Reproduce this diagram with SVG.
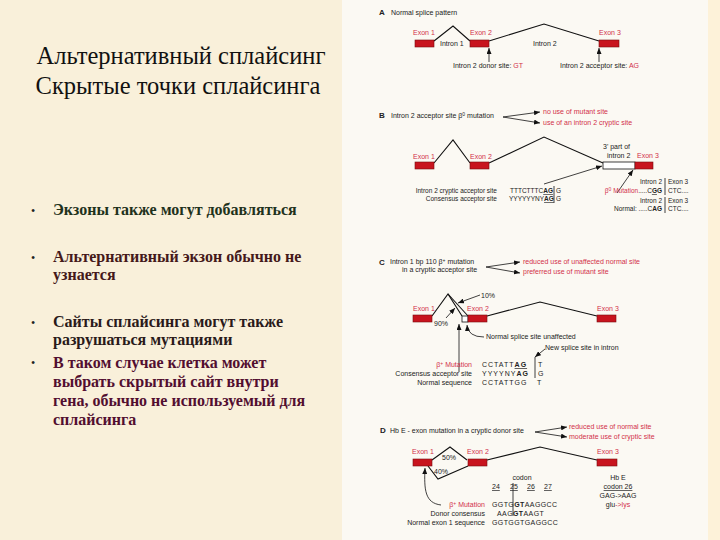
<svg xmlns="http://www.w3.org/2000/svg" width="720" height="540" viewBox="0 0 720 540">
<defs>
<marker id="ah" markerUnits="userSpaceOnUse" markerWidth="6" markerHeight="5" refX="6" refY="2.5" orient="auto"><path d="M0,0 L6,2.5 L0,5 z" fill="#111"/></marker>
<style>
.bg{fill:#f9f0da}
.title{font-family:"Liberation Serif",serif;font-size:24.5px;fill:#111}
.bul{font-family:"Liberation Serif",serif;font-size:16px;font-weight:bold}
.dot{font-family:"Liberation Serif",serif;font-size:12px;fill:#222}
.t{font-family:"Liberation Sans",Arial,sans-serif;font-size:7px;fill:#222}
.s{font-family:"Liberation Sans",Arial,sans-serif;font-size:6.5px;fill:#222}
.r{fill:#d2304a}
.lbl{font-family:"Liberation Sans",Arial,sans-serif;font-size:7px;fill:#d2304a}
.hd{font-family:"Liberation Sans",Arial,sans-serif;font-size:8px;font-weight:bold;fill:#222}
.ex{fill:#c8141e;stroke:#7a0a10;stroke-width:0.6}
.open{fill:#fff;stroke:#111;stroke-width:0.8}
.ln{fill:none;stroke:#111;stroke-width:1.1}
.ar{fill:none;stroke:#111;stroke-width:0.8;marker-end:url(#ah)}
.bar{stroke:#111;stroke-width:0.8}
.b{font-weight:bold}
.u{text-decoration:underline}
.e{text-anchor:end}
.m{text-anchor:middle}
</style>
</defs>
<rect class="bg" x="0" y="0" width="720" height="540"/>
<rect x="342" y="0" width="366" height="540" fill="#fbf9f3"/>
<rect x="708" y="0" width="12" height="540" fill="#fdf2d9"/>

<g id="title">
<text class="title m" x="181" y="64">Альтернативный сплайсинг</text>
<text class="title m" x="178" y="94">Скрытые точки сплайсинга</text>
</g>

<g id="bullets">
<text class="dot" x="31" y="215">•</text>
<text class="bul" x="53" y="215" fill="#1f321c">Экзоны также могут добавляться</text>
<text class="dot" x="31" y="262">•</text>
<text class="bul" x="53" y="262" fill="#45191a">Альтернативный экзон обычно не</text>
<text class="bul" x="53" y="280" fill="#45191a">узнается</text>
<text class="dot" x="31" y="327">•</text>
<text class="bul" x="53" y="327" fill="#2a1a1a">Сайты сплайсинга могут также</text>
<text class="bul" x="53" y="345" fill="#2a1a1a">разрушаться мутациями</text>
<text class="dot" x="31" y="367">•</text>
<text class="bul" x="53" y="368" fill="#520e30">В таком случае клетка может</text>
<text class="bul" x="53" y="387" fill="#520e30">выбрать скрытый сайт внутри</text>
<text class="bul" x="53" y="406" fill="#520e30">гена, обычно не используемый для</text>
<text class="bul" x="53" y="425" fill="#520e30">сплайсинга</text>
</g>

<g id="connectors">
<!-- A -->
<polyline class="ln" points="434,41 453,26 470,41"/>
<polyline class="ln" points="489,41 544,24 599,41"/>
<line class="ar" x1="489" y1="62" x2="489" y2="48"/>
<line class="ar" x1="599" y1="62" x2="599" y2="48"/>
<!-- B -->
<line class="ar" x1="503" y1="117" x2="540" y2="112"/>
<line class="ar" x1="503" y1="117" x2="540" y2="123"/>
<polyline class="ln" points="434,163 453,140 470,163"/>
<polyline class="ln" points="489,163 544,137 603,163"/>
<line class="ar" x1="544" y1="184" x2="602" y2="166"/>
<line class="ar" x1="617" y1="193" x2="633" y2="170"/>
<line class="bar" x1="554" y1="186" x2="554" y2="203"/>
<line class="bar" x1="665" y1="178" x2="665" y2="195"/>
<line class="bar" x1="665" y1="197" x2="665" y2="213"/>
<!-- C -->
<line class="ar" x1="486" y1="267" x2="520" y2="262"/>
<line class="ar" x1="486" y1="267" x2="520" y2="273"/>
<polyline class="ln" points="432,316 448,294 462,316"/>
<line class="ln" x1="448" y1="294" x2="468" y2="316"/>
<polyline class="ln" points="487,316 540,302 597,316"/>
<line class="ar" x1="480" y1="295" x2="458" y2="303"/>
<line class="ar" x1="446" y1="318" x2="455" y2="308"/>
<line class="ar" x1="459" y1="372" x2="459" y2="324"/>
<path class="ar" d="M484,337 Q468,337 467,325"/>
<line class="ar" x1="545" y1="349" x2="535" y2="357"/>
<line class="bar" x1="535" y1="357" x2="535" y2="378"/>
<!-- D -->
<line class="ar" x1="535" y1="432" x2="567" y2="427"/>
<line class="ar" x1="535" y1="432" x2="567" y2="437"/>
<polyline class="ln" points="432,460 450,447 467,460"/>
<polyline class="ln" points="428,466 438,479 468,466"/>
<polyline class="ln" points="487,460 540,447 597,460"/>
<path class="ar" d="M441,505 C425,503 424,490 425,468"/>
<line class="bar" x1="513" y1="483" x2="513" y2="516"/>
</g>

<g id="panelA">
<text class="hd" x="379" y="15">A</text>
<text class="t" x="391" y="15">Normal splice pattern</text>
<g id="A-exon1"><text class="lbl" x="413" y="35">Exon 1</text><rect class="ex" x="415" y="40" width="19" height="7"/></g>
<g id="A-exon2"><text class="lbl" x="470" y="35">Exon 2</text><rect class="ex" x="470" y="40" width="19" height="7"/></g>
<g id="A-exon3"><text class="lbl" x="599" y="35">Exon 3</text><rect class="ex" x="599" y="40" width="20" height="7"/></g>
<text class="t" x="440" y="46">Intron 1</text>
<text class="t" x="533" y="46">Intron 2</text>
<text class="t" x="453" y="68">Intron 2 donor site: <tspan class="r">GT</tspan></text>
<text class="t" x="560" y="68">Intron 2 acceptor site: <tspan class="r">AG</tspan></text>
</g>

<g id="panelB">
<text class="hd" x="379" y="118">B</text>
<text class="t" x="391" y="118">Intron 2 acceptor site β<tspan font-size="5" dy="-2.5">0</tspan><tspan dy="2.5"> mutation</tspan></text>
<text class="lbl" x="543" y="114">no use of mutant site</text>
<text class="lbl" x="543" y="125">use of an intron 2 cryptic site</text>
<g id="B-exon1"><text class="lbl" x="413" y="159">Exon 1</text><rect class="ex" x="415" y="162" width="19" height="7"/></g>
<g id="B-exon2"><text class="lbl" x="470" y="159">Exon 2</text><rect class="ex" x="470" y="162" width="19" height="7"/></g>
<g id="B-intron2part"><text class="t" x="603" y="149">3' part of</text><text class="t" x="607" y="158">intron 2</text><rect class="open" x="603" y="162" width="32" height="7"/></g>
<g id="B-exon3"><text class="lbl" x="637" y="158">Exon 3</text><rect class="ex" x="635" y="162" width="18" height="7"/></g>
<text class="s e" x="497" y="193">Intron 2 cryptic acceptor site</text>
<text class="s e" x="497" y="201">Consensus acceptor site</text>
<text class="s" x="510" y="193">TTTCTTTC<tspan class="b u">AG</tspan></text>
<text class="s" x="556" y="193">G</text>
<text class="s" x="509" y="201">YYYYYYNY<tspan class="b u">AG</tspan></text>
<text class="s" x="556" y="201">G</text>
<text class="s e" x="662" y="184">Intron 2</text><text class="s" x="668" y="184">Exon 3</text>
<text class="s e" x="662" y="193"><tspan class="r">β<tspan font-size="5" dy="-2.5">0</tspan><tspan dy="2.5"> Mutation</tspan></tspan>.....C<tspan class="b u">G</tspan><tspan class="b">G</tspan></text>
<text class="s" x="668" y="193">CTC....</text>
<text class="s e" x="662" y="203">Intron 2</text><text class="s" x="668" y="203">Exon 3</text>
<text class="s e" x="662" y="211">Normal: .....C<tspan class="b">AG</tspan></text>
<text class="s" x="668" y="211">CTC....</text>
</g>

<g id="panelC">
<text class="hd" x="379" y="265">C</text>
<text class="t" x="390" y="264">Intron 1 bp 110 β<tspan font-size="5" dy="-2.5">+</tspan><tspan dy="2.5"> mutation</tspan></text>
<text class="t" x="402" y="272">in a cryptic acceptor site</text>
<text class="lbl" x="523" y="264">reduced use of unaffected normal site</text>
<text class="lbl" x="523" y="274">preferred use of mutant site</text>
<g id="C-exon1"><text class="lbl" x="413" y="311">Exon 1</text><rect class="ex" x="413" y="315" width="19" height="7"/></g>
<rect class="open" x="462" y="316" width="6" height="6"/>
<g id="C-exon2"><text class="lbl" x="467" y="311">Exon 2</text><rect class="ex" x="468" y="315" width="19" height="7"/></g>
<g id="C-exon3"><text class="lbl" x="597" y="311">Exon 3</text><rect class="ex" x="597" y="315" width="19" height="7"/></g>
<text class="t" x="481" y="298">10%</text>
<text class="t" x="434" y="326">90%</text>
<text class="t" x="486" y="339">Normal splice site unaffected</text>
<text class="t" x="545" y="350">New splice site in intron</text>
<text class="t e" x="472" y="367"><tspan class="r">β<tspan font-size="5" dy="-2.5">+</tspan><tspan dy="2.5"> Mutation</tspan></tspan></text>
<text class="t" x="482" y="367" letter-spacing="1">CCTATT<tspan class="b u">AG</tspan></text>
<text class="t" x="538" y="367">T</text>
<text class="t e" x="472" y="376">Consensus acceptor site</text>
<text class="t" x="482" y="376" letter-spacing="1">YYYYNY<tspan class="b">AG</tspan></text>
<text class="t" x="538" y="376">G</text>
<text class="t e" x="472" y="385">Normal sequence</text>
<text class="t" x="482" y="385" letter-spacing="1">CCTATTGG</text>
<text class="t" x="537" y="385">T</text>
</g>

<g id="panelD">
<text class="hd" x="380" y="433">D</text>
<text class="t" x="390" y="433">Hb E - exon mutation in a cryptic donor site</text>
<text class="lbl" x="569" y="429">reduced use of normal site</text>
<text class="lbl" x="569" y="439">moderate use of cryptic site</text>
<g id="D-exon1"><text class="lbl" x="412" y="454">Exon 1</text><rect class="ex" x="413" y="459" width="19" height="7"/></g>
<g id="D-exon2"><text class="lbl" x="467" y="454">Exon 2</text><rect class="ex" x="468" y="459" width="19" height="7"/></g>
<g id="D-exon3"><text class="lbl" x="597" y="454">Exon 3</text><rect class="ex" x="597" y="459" width="20" height="7"/></g>
<text class="t" x="442" y="460">50%</text>
<text class="t" x="434" y="474">40%</text>
<text class="t m" x="522" y="480">codon</text>
<text class="t u" x="492" y="489">24</text>
<text class="t u" x="510" y="489">25</text>
<text class="t u" x="527" y="489">26</text>
<text class="t u" x="544" y="489">27</text>
<text class="t m" x="618" y="480">Hb E</text>
<text class="t m u" x="618" y="489">codon 26</text>
<text class="t m" x="618" y="498">GAG-&gt;AAG</text>
<text class="t m" x="618" y="507">glu<tspan class="r">-&gt;lys</tspan></text>
<text class="t e" x="485" y="507"><tspan class="r">β<tspan font-size="5" dy="-2.5">+</tspan><tspan dy="2.5"> Mutation</tspan></tspan></text>
<text class="t" x="492" y="507" letter-spacing="0.4">GGTG<tspan class="b">GT</tspan>AAGGCC</text>
<text class="t e" x="485" y="516">Donor consensus</text>
<text class="t" x="497" y="516" letter-spacing="0.4">AAG<tspan class="b">GT</tspan>AAGT</text>
<text class="t e" x="485" y="525">Normal exon 1 sequence</text>
<text class="t" x="492" y="525" letter-spacing="0.4">GGTGGTGAGGCC</text>
</g>
</svg>
